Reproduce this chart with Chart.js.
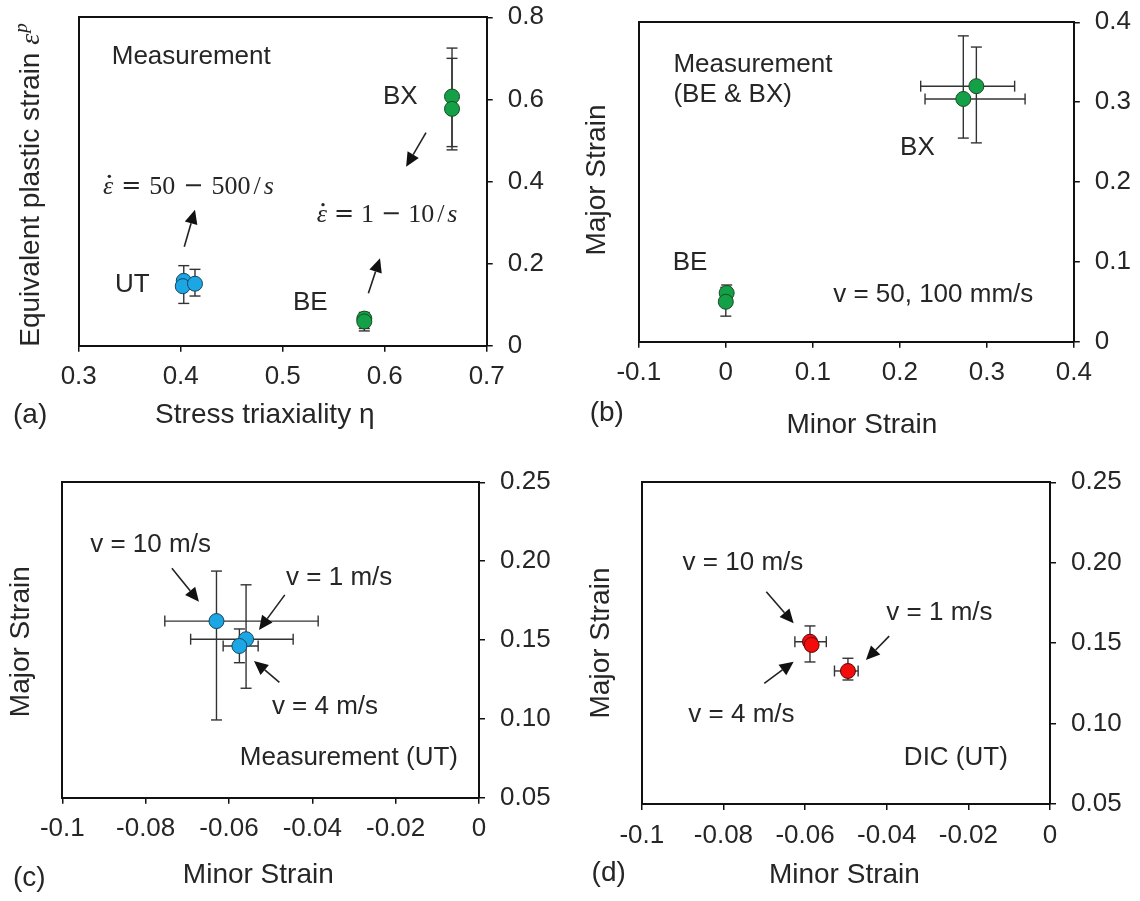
<!DOCTYPE html>
<html>
<head>
<meta charset="utf-8">
<script src="https://cdn.jsdelivr.net/npm/chart.js@4.4.1/dist/chart.umd.min.js"></script>
<style>
  html, body { margin: 0; padding: 0; background: #fff; }
  #wrap { position: relative; width: 1140px; height: 901px; overflow: hidden; }
  canvas { position: absolute; }
</style>
</head>
<body>
<div id="wrap">
  <canvas id="pa" width="560" height="450" style="left:0;top:0"></canvas>
  <canvas id="pb" width="580" height="450" style="left:560px;top:0"></canvas>
  <canvas id="pc" width="560" height="451" style="left:0;top:450px"></canvas>
  <canvas id="pd" width="580" height="451" style="left:560px;top:450px"></canvas>
</div>
<script>
// ---------- (a) equivalent plastic strain vs stress triaxiality ----------
const utEta = [0.403, 0.402, 0.414];
const utStrain = [0.158, 0.145, 0.151];
const utStrainLo = [0.103, null, 0.121];
const utStrainHi = [0.195, null, 0.186];

const beEta = [0.580, 0.580];
const beStrain = [0.066, 0.059];
const beStrainLo = [0.042, 0.036];
const beStrainHi = [0.081, 0.074];

const bxEta = [0.666, 0.666];
const bxStrain = [0.607, 0.577];
const bxStrainLo = [0.477, 0.485];
const bxStrainHi = [0.725, 0.700];

const etaTicks = [0.3, 0.4, 0.5, 0.6, 0.7];
const etaTickLabels = ['0.3', '0.4', '0.5', '0.6', '0.7'];
const epTicks = [0, 0.2, 0.4, 0.6, 0.8];
const epTickLabels = ['0', '0.2', '0.4', '0.6', '0.8'];

// ---------- (b) major vs minor strain, BE & BX ----------
const bxMinor = [0.288, 0.273];
const bxMajor = [0.320, 0.304];
const bxMinorLo = [0.224, 0.229];
const bxMinorHi = [0.332, 0.344];
const bxMajorLo = [0.249, 0.255];
const bxMajorHi = [0.369, 0.383];

const beMinor = [0.001, 0.000];
const beMajor = [0.061, 0.050];
const beMajorLo = [0.051, 0.032];
const beMajorHi = [0.071, 0.068];

const bMinorTicks = [-0.1, 0, 0.1, 0.2, 0.3, 0.4];
const bMinorTickLabels = ['-0.1', '0', '0.1', '0.2', '0.3', '0.4'];
const bMajorTicks = [0, 0.1, 0.2, 0.3, 0.4];
const bMajorTickLabels = ['0', '0.1', '0.2', '0.3', '0.4'];

// ---------- (c) UT measurement, v = 10, 1, 4 m/s ----------
const utMinor = [-0.0630, -0.0559, -0.0575];
const utMajor = [0.1620, 0.1505, 0.1462];
const utMinorLo = [-0.0754, -0.0692, -0.0614];
const utMinorHi = [-0.0386, -0.0446, -0.0530];
const utMajorLo = [0.0993, 0.1194, 0.1356];
const utMajorHi = [0.1937, 0.1850, 0.1570];

// ---------- (d) DIC, v = 10, 1, 4 m/s ----------
const dicMinor = [-0.0588, -0.0495, -0.0584];
const dicMajor = [0.1509, 0.1327, 0.1489];
const dicMinorLo = [-0.0625, -0.0528, null];
const dicMinorHi = [-0.0548, -0.0470, null];
const dicMajorLo = [0.1383, 0.1271, null];
const dicMajorHi = [0.1607, 0.1406, null];

const utMinorTicks = [-0.1, -0.08, -0.06, -0.04, -0.02, 0];
const utMinorTickLabels = ['-0.1', '-0.08', '-0.06', '-0.04', '-0.02', '0'];
const utMajorTicks = [0.05, 0.10, 0.15, 0.20, 0.25];
const utMajorTickLabels = ['0.05', '0.10', '0.15', '0.20', '0.25'];

// ---------- styling ----------
const SANS = "'Liberation Sans', Arial, sans-serif";
const SERIF = "'Liberation Serif', serif";
const OPS = "'DejaVu Sans', sans-serif";
const INK = '#262626';
const LABEL_FONT = '26px ' + SANS;
const TITLE_FONT = '28px ' + SANS;
const BLUE = '#1ca7e4', GREEN = '#14a046', RED = '#f20c0c';

function pts(xs, ys) { return xs.map((x, i) => ({ x: x, y: ys[i] })); }

// error bars drawn under the markers, through the chart's own scales
const errorBars = {
  id: 'errorBars',
  beforeDatasetsDraw(chart) {
    const ctx = chart.ctx, xs = chart.scales.x, ys = chart.scales.y;
    const cap = 5.5;
    ctx.save();
    ctx.strokeStyle = '#333';
    ctx.lineWidth = 1.4;
    const seg = (x0, y0, x1, y1) => { ctx.beginPath(); ctx.moveTo(x0, y0); ctx.lineTo(x1, y1); ctx.stroke(); };
    chart.data.datasets.forEach(ds => {
      const e = ds.errors;
      if (!e) return;
      ds.data.forEach((p, i) => {
        const px = xs.getPixelForValue(p.x), py = ys.getPixelForValue(p.y);
        if (e.yLo && e.yLo[i] != null) {
          const a = ys.getPixelForValue(e.yLo[i]), b = ys.getPixelForValue(e.yHi[i]);
          seg(px, a, px, b); seg(px - cap, a, px + cap, a); seg(px - cap, b, px + cap, b);
        }
        if (e.xLo && e.xLo[i] != null) {
          const a = xs.getPixelForValue(e.xLo[i]), b = xs.getPixelForValue(e.xHi[i]);
          seg(a, py, b, py); seg(a, py - cap, a, py + cap); seg(b, py - cap, b, py + cap);
        }
      });
    });
    ctx.restore();
  }
};

// draws a row of text runs; a run may carry a time-derivative dot
function drawRuns(ctx, runs, x, y, align, rotate) {
  ctx.save();
  ctx.translate(x, y);
  if (rotate) ctx.rotate(-Math.PI / 2);
  ctx.textBaseline = 'middle';
  ctx.textAlign = 'left';
  let total = 0;
  runs.forEach(r => { ctx.font = r.font || LABEL_FONT; total += ctx.measureText(r.t).width + (r.gap || 0); });
  let cx = align === 'center' ? -total / 2 : 0;
  runs.forEach(r => {
    ctx.font = r.font || LABEL_FONT;
    ctx.fillStyle = INK;
    const w = ctx.measureText(r.t).width;
    ctx.fillText(r.t, cx, r.dy || 0);
    if (r.dot) {
      ctx.beginPath();
      ctx.arc(cx + w * 0.62, (r.dy || 0) - 10.5, 1.7, 0, Math.PI * 2);
      ctx.fill();
    }
    cx += w + (r.gap || 0);
  });
  ctx.restore();
}

function drawArrow(ctx, x0, y0, x1, y1) {
  const ang = Math.atan2(y1 - y0, x1 - x0);
  const len = 14, half = 6.5;
  const bx = x1 - len * Math.cos(ang), by = y1 - len * Math.sin(ang);
  ctx.strokeStyle = '#222';
  ctx.fillStyle = '#111';
  ctx.lineWidth = 1.6;
  ctx.beginPath(); ctx.moveTo(x0, y0); ctx.lineTo(bx, by); ctx.stroke();
  ctx.beginPath();
  ctx.moveTo(x1, y1);
  ctx.lineTo(bx + half * Math.sin(ang), by - half * Math.cos(ang));
  ctx.lineTo(bx - half * Math.sin(ang), by + half * Math.cos(ang));
  ctx.closePath();
  ctx.fill();
}

// annotation text and arrows; "at" is in data units, "px" in canvas pixels
function notes(cfg) {
  return {
    id: 'notes',
    afterDraw(chart) {
      const ctx = chart.ctx, xs = chart.scales.x, ys = chart.scales.y;
      (cfg.arrows || []).forEach(a => {
        drawArrow(ctx, xs.getPixelForValue(a.from[0]), ys.getPixelForValue(a.from[1]),
                       xs.getPixelForValue(a.to[0]), ys.getPixelForValue(a.to[1]));
      });
      (cfg.labels || []).forEach(l => {
        const x = l.at ? xs.getPixelForValue(l.at[0]) : l.px[0];
        const y = l.at ? ys.getPixelForValue(l.at[1]) : l.px[1];
        drawRuns(ctx, l.runs || [{ t: l.text, font: l.font }], x, y, l.align || 'left', l.rotate);
      });
    }
  };
}

function frameScales(o) {
  const frame = { display: true, color: '#111', width: 2 };
  const tickFont = { family: SANS, size: 26 };
  return {
    x: {
      type: 'linear', position: 'bottom', min: o.xMin, max: o.xMax,
      afterBuildTicks: s => { s.ticks = o.xTicks.map(v => ({ value: v })); },
      afterFit: s => { s.height = o.bottom; s.paddingLeft = 0; s.paddingRight = 0; },
      ticks: { callback: (v, i) => o.xLabels[i], font: tickFont, color: INK, padding: 10, maxRotation: 0, autoSkip: false },
      grid: { drawOnChartArea: false, drawTicks: true, tickLength: 6, color: '#111', lineWidth: 1.5 },
      border: frame
    },
    xt: {
      type: 'linear', position: 'top', min: o.xMin, max: o.xMax,
      ticks: { display: false }, grid: { display: false }, border: frame,
      afterFit: s => { s.height = 0; s.paddingLeft = 0; s.paddingRight = 0; }
    },
    y: {
      type: 'linear', position: 'right', min: o.yMin, max: o.yMax,
      afterBuildTicks: s => { s.ticks = o.yTicks.map(v => ({ value: v })); },
      afterFit: s => { s.width = o.right; s.paddingTop = 0; s.paddingBottom = 0; },
      ticks: { callback: (v, i) => o.yLabels[i], font: tickFont, color: INK, padding: 15, autoSkip: false },
      grid: { drawOnChartArea: false, drawTicks: true, tickLength: 6, color: '#111', lineWidth: 1.5 },
      border: frame
    },
    yl: {
      type: 'linear', position: 'left', min: o.yMin, max: o.yMax,
      ticks: { display: false }, grid: { display: false }, border: frame,
      afterFit: s => { s.width = 0; s.paddingTop = 0; s.paddingBottom = 0; }
    }
  };
}

function series(xs, ys, color, edge, err) {
  return {
    data: pts(xs, ys), errors: err,
    pointRadius: 7.5, pointHoverRadius: 7.5, pointStyle: 'circle',
    backgroundColor: color, borderColor: edge, borderWidth: 1
  };
}

function makeChart(id, datasets, o, note) {
  return new Chart(document.getElementById(id), {
    type: 'scatter',
    data: { datasets: datasets },
    options: {
      responsive: false, animation: false, devicePixelRatio: 1,
      layout: { padding: { left: o.left, top: o.top, right: 0, bottom: 0 } },
      plugins: { legend: { display: false }, tooltip: { enabled: false } },
      scales: frameScales(o)
    },
    plugins: [errorBars, notes(note)]
  });
}

const mathFont = '26px ' + SERIF;
const mathItal = 'italic 26px ' + SERIF;
const opFont = '24px ' + OPS;

// (a)
makeChart('pa', [
  series(utEta, utStrain, BLUE, '#17455e', { yLo: utStrainLo, yHi: utStrainHi }),
  series(beEta, beStrain, GREEN, '#1b4a26', { yLo: beStrainLo, yHi: beStrainHi }),
  series(bxEta, bxStrain, GREEN, '#1b4a26', { yLo: bxStrainLo, yHi: bxStrainHi })
], {
  left: 78.7, top: 17.3, right: 73.3, bottom: 104.3,
  xMin: 0.3, xMax: 0.7, xTicks: etaTicks, xLabels: etaTickLabels,
  yMin: 0, yMax: 0.8, yTicks: epTicks, yLabels: epTickLabels
}, {
  arrows: [
    { from: [0.4035, 0.241], to: [0.414, 0.331] },
    { from: [0.584, 0.128], to: [0.5954, 0.213] },
    { from: [0.6405, 0.519], to: [0.621, 0.436] }
  ],
  labels: [
    { at: [0.3324, 0.704], text: 'Measurement' },
    { at: [0.5983, 0.6066], text: 'BX' },
    { at: [0.3356, 0.148], text: 'UT' },
    { at: [0.510, 0.105], text: 'BE' },
    { at: [0.3238, 0.387], runs: [
      { t: 'ε', font: mathItal, gap: 8, dot: true }, { t: '=', font: opFont, gap: 8 },
      { t: '50', font: mathFont, gap: 8 }, { t: '\u2212', font: opFont, gap: 8 },
      { t: '500', font: mathFont, gap: 3 }, { t: '/', font: mathFont, gap: 3 },
      { t: 's', font: mathItal } ] },
    { at: [0.5333, 0.318], runs: [
      { t: 'ε', font: mathItal, gap: 7, dot: true }, { t: '=', font: opFont, gap: 7 },
      { t: '1', font: mathFont, gap: 7 }, { t: '\u2212', font: opFont, gap: 7 },
      { t: '10', font: mathFont, gap: 3 }, { t: '/', font: mathFont, gap: 3 },
      { t: 's', font: mathItal } ] },
    { px: [31.7, 185], rotate: true, align: 'center', runs: [
      { t: 'Equivalent plastic strain ', font: TITLE_FONT },
      { t: 'ε', font: 'italic 28px ' + SERIF, gap: 1 },
      { t: 'p', font: 'italic 19px ' + SERIF, dy: -10 } ] },
    { px: [264.8, 415], align: 'center', text: 'Stress triaxiality η', font: TITLE_FONT },
    { px: [13, 415], text: '(a)', font: TITLE_FONT }
  ]
});

// (b)
makeChart('pb', [
  series(beMinor, beMajor, GREEN, '#1b4a26', { yLo: beMajorLo, yHi: beMajorHi }),
  series(bxMinor, bxMajor, GREEN, '#1b4a26', { xLo: bxMinorLo, xHi: bxMinorHi, yLo: bxMajorLo, yHi: bxMajorHi })
], {
  left: 78.8, top: 22.3, right: 66.2, bottom: 108.3,
  xMin: -0.1, xMax: 0.4, xTicks: bMinorTicks, xLabels: bMinorTickLabels,
  yMin: 0, yMax: 0.4, yTicks: bMajorTicks, yLabels: bMajorTickLabels
}, {
  labels: [
    { at: [-0.0602, 0.3465], text: 'Measurement' },
    { at: [-0.0602, 0.309], text: '(BE & BX)' },
    { at: [0.2003, 0.2426], text: 'BX' },
    { at: [-0.0611, 0.0986], text: 'BE' },
    { at: [0.1234, 0.0585], text: 'v = 50, 100 mm/s' },
    { px: [37.2, 180], rotate: true, align: 'center', text: 'Major Strain', font: TITLE_FONT },
    { px: [301.9, 425], align: 'center', text: 'Minor Strain', font: TITLE_FONT },
    { px: [29.7, 413], text: '(b)', font: TITLE_FONT }
  ]
});

// (c)
makeChart('pc', [
  series(utMinor, utMajor, BLUE, '#17455e', { xLo: utMinorLo, xHi: utMinorHi, yLo: utMajorLo, yHi: utMajorHi })
], {
  left: 62.3, top: 32.3, right: 81, bottom: 103.3,
  xMin: -0.1, xMax: 0, xTicks: utMinorTicks, xLabels: utMinorTickLabels,
  yMin: 0.05, yMax: 0.25, yTicks: utMajorTicks, yLabels: utMajorTickLabels
}, {
  arrows: [
    { from: [-0.0737, 0.1955], to: [-0.0672, 0.1743] },
    { from: [-0.0466, 0.1786], to: [-0.0528, 0.1564] },
    { from: [-0.0479, 0.1232], to: [-0.0540, 0.1367] }
  ],
  labels: [
    { at: [-0.0933, 0.2103], text: 'v = 10 m/s' },
    { at: [-0.0463, 0.1892], text: 'v = 1 m/s' },
    { at: [-0.0497, 0.1077], text: 'v = 4 m/s' },
    { at: [-0.0574, 0.075], text: 'Measurement (UT)' },
    { px: [21.7, 191.7], rotate: true, align: 'center', text: 'Major Strain', font: TITLE_FONT },
    { px: [258.3, 425], align: 'center', text: 'Minor Strain', font: TITLE_FONT },
    { px: [13, 428], text: '(c)', font: TITLE_FONT }
  ]
});

// (d)
makeChart('pd', [
  series(dicMinor, dicMajor, RED, '#5a0a0a', { xLo: dicMinorLo, xHi: dicMinorHi, yLo: dicMajorLo, yHi: dicMajorHi })
], {
  left: 81.8, top: 32.3, right: 90, bottom: 97,
  xMin: -0.1, xMax: 0, xTicks: utMinorTicks, xLabels: utMinorTickLabels,
  yMin: 0.05, yMax: 0.25, yTicks: utMajorTicks, yLabels: utMajorTickLabels
}, {
  arrows: [
    { from: [-0.0695, 0.182], to: [-0.0628, 0.1623] },
    { from: [-0.0394, 0.1544], to: [-0.0451, 0.1395] },
    { from: [-0.0700, 0.125], to: [-0.0628, 0.1385] }
  ],
  labels: [
    { at: [-0.090, 0.1997], text: 'v = 10 m/s' },
    { at: [-0.0401, 0.1689], text: 'v = 1 m/s' },
    { at: [-0.0886, 0.1053], text: 'v = 4 m/s' },
    { at: [-0.0358, 0.0784], text: 'DIC (UT)' },
    { px: [40.9, 193], rotate: true, align: 'center', text: 'Major Strain', font: TITLE_FONT },
    { px: [284.4, 425], align: 'center', text: 'Minor Strain', font: TITLE_FONT },
    { px: [31.6, 423], text: '(d)', font: TITLE_FONT }
  ]
});
</script>
</body>
</html>
